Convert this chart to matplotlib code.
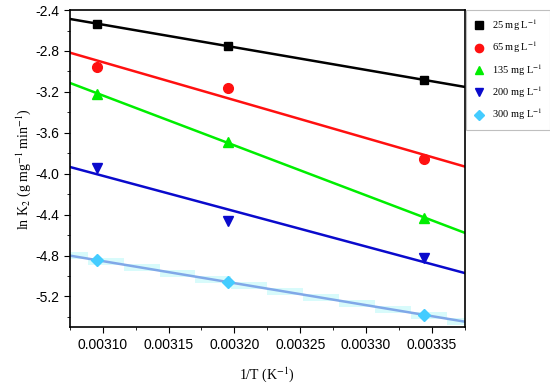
import numpy as np
import matplotlib
matplotlib.use('Agg')
from matplotlib import pyplot as plt
from matplotlib.ticker import MultipleLocator, FormatStrFormatter

plt.rcParams['mathtext.fontset'] = 'stix'

# 1/T values (K^-1)
inv_t = [0.003096, 0.003195, 0.003344]
# ln K2 for each initial concentration
ln_k25 = [-2.534, -2.751, -3.083]
ln_k65 = [-2.953, -3.164, -3.854]
ln_k135 = [-3.22, -3.69, -4.43]
ln_k200 = [-3.94, -4.46, -4.82]
ln_k300 = [-4.846, -5.06, -5.38]
labels = ['25 mg L$^{-1}$', '65 mg L$^{-1}$', '135 mg L$^{-1}$',
          '200 mg L$^{-1}$', '300 mg L$^{-1}$']

series = [ln_k25, ln_k65, ln_k135, ln_k200, ln_k300]
markers = ['s', 'o', '^', 'v', 'D']
mcolors = ['black', '#ff1010', '#00ee00', '#0a0acc', '#44ccff']
lcolors = ['black', '#ff1010', '#00ee00', '#0a0acc', '#80a8e8']
msizes = [6, 7, 7, 7, 6]

fig = plt.figure(figsize=(5.5, 3.88), dpi=100)
ax = fig.add_axes([0.127, 0.157, 0.718, 0.817])

xlo, xhi = 0.003075, 0.003375
xf = np.linspace(xlo, xhi, 50)
for y, m, mc, lc, ms, lab in zip(series, markers, mcolors, lcolors, msizes, labels):
    k, b = np.polyfit(inv_t, y, 1)
    if lab.startswith('300'):
        # faint blocky band round the fit, like the original
        xs = np.linspace(xlo, xhi, 12)
        ax.fill_between(xs, k * xs + b - 0.035, k * xs + b + 0.035,
                        step='mid', color='#d8fbfb', lw=0, zorder=1)
    ax.plot(xf, k * xf + b, color=lc, lw=1.8, zorder=2)
    ax.plot(inv_t, y, ls='none', marker=m, color=mc, ms=ms, label=lab, zorder=3)

ax.set_xlim(xlo, xhi)
ax.set_ylim(-5.5, -2.4)
ax.xaxis.set_major_locator(MultipleLocator(0.00005))
ax.xaxis.set_minor_locator(MultipleLocator(0.000025))
ax.yaxis.set_major_locator(MultipleLocator(0.4))
ax.yaxis.set_minor_locator(MultipleLocator(0.2))
ax.xaxis.set_major_formatter(FormatStrFormatter('%.5f'))
ax.yaxis.set_major_formatter(FormatStrFormatter('%.1f'))
ax.tick_params(which='both', direction='out', top=False, right=False)
ax.tick_params(which='major', length=4, labelsize=10)
ax.tick_params(which='minor', length=2.5)
for lbl in ax.get_xticklabels() + ax.get_yticklabels():
    lbl.set_family('Liberation Sans')
for s in ax.spines.values():
    s.set_linewidth(1.2)

ax.set_xlabel('1/T (K$^{-1}$)', family='Liberation Serif', fontsize=10, labelpad=10)
ax.set_ylabel('ln K$_2$ (g mg$^{-1}$ min$^{-1}$)', family='Liberation Serif', fontsize=10, labelpad=2)

leg = ax.legend(loc='upper left', bbox_to_anchor=(1.004, 1.0), borderaxespad=0,
                frameon=True, fancybox=False,
                prop={'family': 'Liberation Serif', 'size': 7.5},
                handlelength=1.0, handletextpad=0.8, borderpad=0.7,
                labelspacing=0.65, markerscale=0.85)
leg.get_frame().set_edgecolor('#b0b0b0')
leg.get_frame().set_linewidth(0.8)

plt.savefig('out.png', dpi=100)
